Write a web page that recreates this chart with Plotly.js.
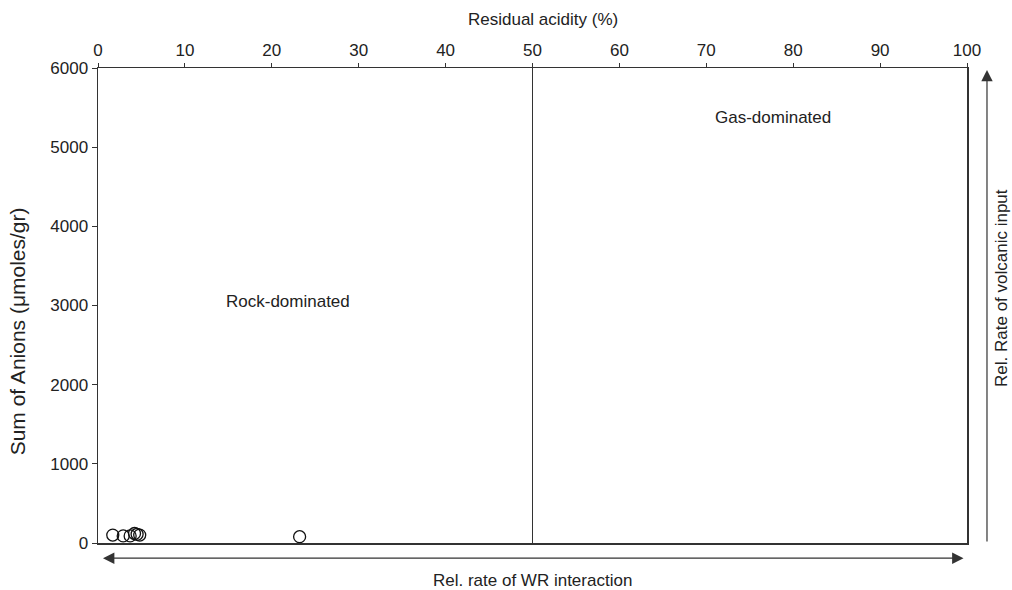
<!DOCTYPE html>
<html>
<head>
<meta charset="utf-8">
<script src="https://cdn.plot.ly/plotly-3.0.1.min.js"></script>
<style>
  html, body { margin: 0; padding: 0; background: #fff; }
  #chart { width: 1012px; height: 590px; }
</style>
</head>
<body>
<div id="chart"></div>
<script>
// Residual acidity (%) vs. sum of anions for the sampled waters
const residualAcidity = [1.7, 2.9, 3.7, 4.2, 4.5, 4.8, 23.2];
const sumOfAnions = [100, 90, 90, 120, 110, 100, 80];

// Boundary between the two regimes
const boundaryX = [50, 50];
const boundaryY = [0, 6000];

// Regime labels
const regimeNames = ['Gas-dominated', 'Rock-dominated'];
const regimeX = [77.7, 21.9];
const regimeY = [5380, 3055];

const xTicks = [0, 10, 20, 30, 40, 50, 60, 70, 80, 90, 100];
const yTicks = [0, 1000, 2000, 3000, 4000, 5000, 6000];

const font = { family: 'Liberation Sans, Arial, sans-serif', size: 17, color: '#222' };
const yTitleFont = { family: 'Liberation Sans, Arial, sans-serif', size: 21, color: '#222' };
const ink = '#333';

const traces = [
  {
    x: boundaryX, y: boundaryY, mode: 'lines', type: 'scatter',
    line: { color: ink, width: 1 }, hoverinfo: 'skip', showlegend: false
  },
  {
    x: residualAcidity, y: sumOfAnions, mode: 'markers', type: 'scatter',
    marker: { symbol: 'circle-open', size: 12, color: '#111', line: { width: 1.3 } },
    showlegend: false
  }
];

const annotations = regimeNames.map((t, i) => ({
  text: t, x: regimeX[i], y: regimeY[i], xref: 'x', yref: 'y',
  showarrow: false, font: font
}));

// Axis titles
annotations.push({
  xref: 'paper', yref: 'paper', x: 0.512, y: 1.103, yanchor: 'middle',
  text: 'Residual acidity (%)', showarrow: false, font: font
});
annotations.push({
  xref: 'paper', yref: 'paper', x: -0.093, y: 0.446, xanchor: 'center', yanchor: 'middle',
  text: 'Sum of Anions (μmoles/gr)', textangle: -90, showarrow: false, font: yTitleFont
});

// Bottom double-headed arrow: relative rate of water-rock interaction
annotations.push({
  xref: 'paper', yref: 'paper', axref: 'paper', ayref: 'paper',
  x: 0.996, y: -0.032, ax: 0.004, ay: -0.032, text: '',
  showarrow: true, arrowhead: 2, startarrowhead: 2, arrowside: 'end+start',
  arrowsize: 1.9, startarrowsize: 1.9, arrowwidth: 1.2, arrowcolor: ink
});
annotations.push({
  xref: 'paper', yref: 'paper', x: 0.5, y: -0.078, yanchor: 'middle',
  text: 'Rel. rate of WR interaction', showarrow: false, font: font
});

// Right-hand arrow: relative rate of volcanic input
annotations.push({
  xref: 'paper', yref: 'paper', axref: 'paper', ayref: 'paper',
  x: 1.023, y: 0.996, ax: 1.023, ay: 0.0, text: '',
  showarrow: true, arrowhead: 2, arrowsize: 1.9, arrowwidth: 1.2, arrowcolor: ink
});
annotations.push({
  xref: 'paper', yref: 'paper', x: 1.0403, y: 0.537, xanchor: 'center', yanchor: 'middle',
  text: 'Rel. Rate of volcanic input', textangle: -90, showarrow: false, font: font
});

const layout = {
  width: 1012, height: 590,
  margin: { l: 98, r: 45, t: 68, b: 47 },
  paper_bgcolor: '#fff', plot_bgcolor: '#fff',
  font: font,
  showlegend: false,
  xaxis: {
    side: 'top', range: [0, 100], tickvals: xTicks, ticktext: xTicks.map(String),
    ticks: 'outside', ticklen: 4, tickcolor: ink, tickwidth: 1,
    showline: true, linecolor: ink, linewidth: 1.5, mirror: true,
    showgrid: false, zeroline: false, tickfont: font
  },
  yaxis: {
    range: [0, 6000], tickvals: yTicks, ticktext: yTicks.map(String),
    ticks: 'outside', ticklen: 5, tickcolor: ink, tickwidth: 1,
    showline: true, linecolor: ink, linewidth: 1.5, mirror: true,
    showgrid: false, zeroline: false, tickfont: font
  },
  annotations: annotations
};

Plotly.newPlot('chart', traces, layout, { displayModeBar: false, staticPlot: true });
</script>
</body>
</html>
